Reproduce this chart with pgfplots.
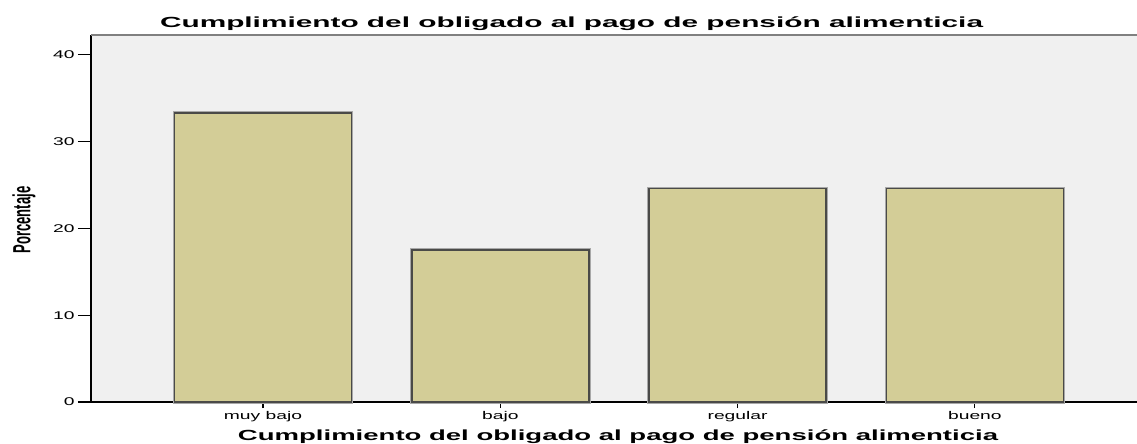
\documentclass[border=0pt]{standalone}
\usepackage{fontspec}
\setmainfont{Liberation Sans}
\usepackage{graphicx}
\usepackage{pgfplots}
\pgfplotsset{compat=1.18}

\definecolor{bgcol}{HTML}{F0F0F0}
\definecolor{barcol}{HTML}{D3CD97}
\definecolor{barline}{HTML}{4A4A48}
\definecolor{shadow}{HTML}{A8A8A8}
\newcommand{\hs}[1]{\scalebox{1.72}[1]{#1}}

\begin{document}
\begin{tikzpicture}
\begin{axis}[
  scale only axis, width=830pt, height=275.25pt,
  anchor=south west, at={(0,0)},
  xmin=-0.725, xmax=3.939, ymin=0, ymax=42.3,
  axis x line*=bottom, axis y line*=left,
  axis line style={-, black, line width=1pt},
  axis background/.style={fill=bgcol},
  ybar, bar shift=0pt, bar width=0.746,
  xtick={0,1,2,3},
  xticklabels={\hs{muy bajo},\hs{bajo},\hs{regular},\hs{bueno}},
  major x tick style={draw=none},
  minor xtick={0,1,2,3},
  minor tick length=4.5pt,
  minor x tick style={black, line width=0.8pt},
  ytick={0,10,20,30,40},
  yticklabel={\hs{\pgfmathprintnumber{\tick}}},
  /pgf/number format/assume math mode=true,
  tick align=outside, major tick length=9.75pt,
  major y tick style={black, line width=0.8pt},
  tick label style={font=\fontsize{8.4}{9}\selectfont},
  xticklabel style={yshift=6pt},
  yticklabel style={xshift=1pt},
  clip=false,
]
\addplot[draw=shadow, line width=2.6pt, fill=none] coordinates {(0,33.3) (1,17.5) (2,24.6) (3,24.6)};
\addplot[draw=barline, line width=1.1pt, fill=barcol] coordinates {(0,33.3) (1,17.5) (2,24.6) (3,24.6)};
\draw[gray, line width=0.8pt] (rel axis cs:0,1) -- (rel axis cs:1,1);
\end{axis}
\node[anchor=base] at (360.4pt,280.5pt)
  {\resizebox{617.25pt}{\height}{\fontsize{11}{13}\selectfont\bfseries Cumplimiento del obligado al pago de pensión alimenticia}};
\node[anchor=base] at (395.25pt,-28.5pt)
  {\resizebox{570pt}{\height}{\fontsize{11}{13}\selectfont\bfseries Cumplimiento del obligado al pago de pensión alimenticia}};
\node[rotate=90] at (-50.25pt,136.5pt)
  {\scalebox{1}[1.9]{\fontsize{9.8}{11}\selectfont\bfseries Porcentaje}};
\pgfresetboundingbox
\path (-68.25pt,-30.75pt) rectangle (784.5pt,301.5pt);
\end{tikzpicture}
\end{document}
